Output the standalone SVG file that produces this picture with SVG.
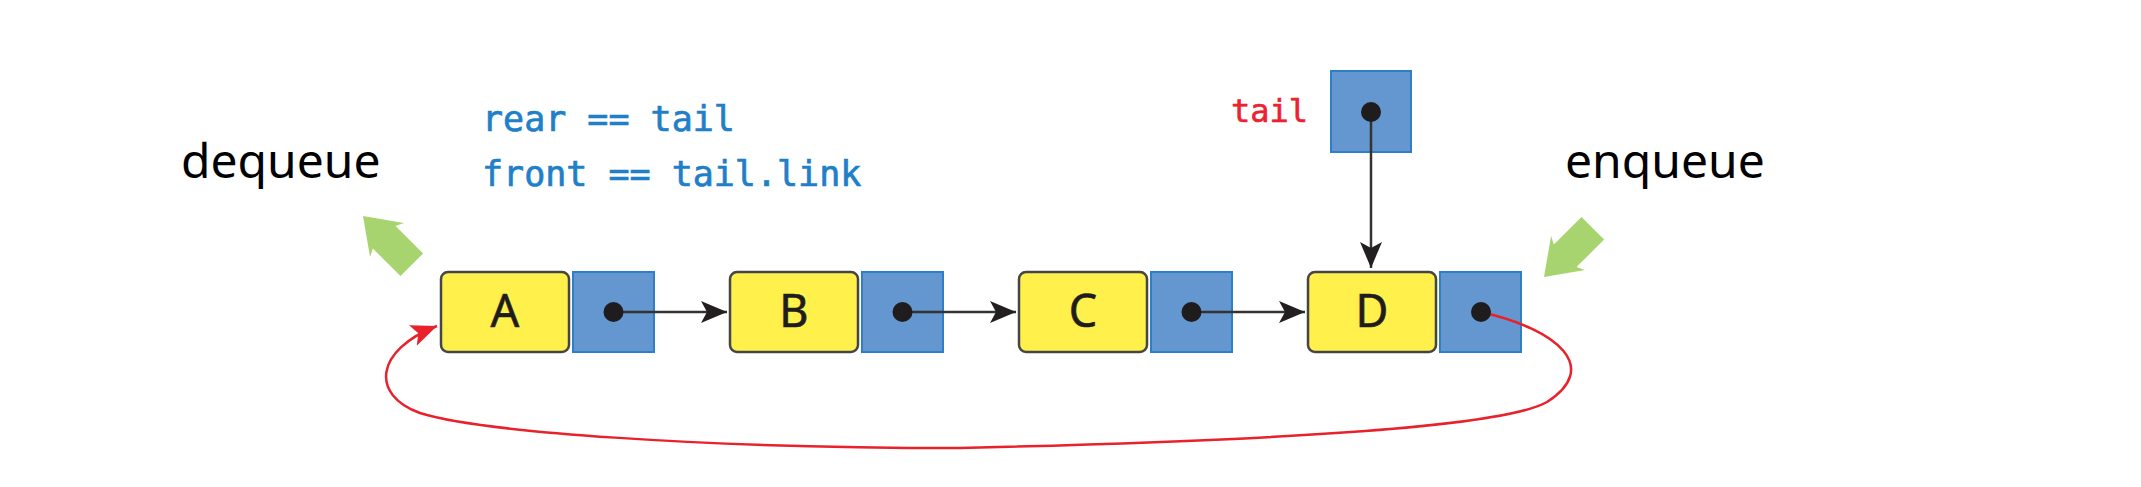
<svg xmlns="http://www.w3.org/2000/svg" width="2141" height="487" viewBox="0 0 2141 487">
<style>
.val{fill:#fff04c;stroke:#454545;stroke-width:2.5}
.ptr{fill:#6496cf;stroke:#2e7fc6;stroke-width:2}
.dot{fill:#1f1c1d}
.lbl{font-family:"Noto Sans","Open Sans",sans-serif;font-size:45px;fill:#1f1c1d;stroke:#1f1c1d;stroke-width:0.6;text-anchor:middle}
.op{font-family:"Noto Sans","Open Sans",sans-serif;font-size:48px;fill:#000}
.code{font-family:"DejaVu Sans Mono","Liberation Mono",monospace;font-size:35px;fill:#1f7fc8;stroke:#1f7fc8;stroke-width:0.7}
.link{fill:none;stroke:#333;stroke-width:2.5}
.green{fill:#a8d470}
</style>
<defs>
<marker id="ah" markerUnits="userSpaceOnUse" viewBox="-26 -12 28 24" refX="0" refY="0" markerWidth="28" markerHeight="24" orient="auto">
<path d="M0,0 L-26,-11 L-20,0 L-26,11 Z" fill="#231f20"/>
</marker>
<marker id="ahr" markerUnits="userSpaceOnUse" viewBox="-26 -12 28 24" refX="0" refY="0" markerWidth="28" markerHeight="24" orient="auto">
<path d="M0,0 L-26,-11 L-20,0 L-26,11 Z" fill="#e8212b"/>
</marker>
</defs>
<rect width="2141" height="487" fill="#fff"/>

<g id="text-labels">
<text class="op" x="181" y="178">dequeue</text>
<text class="op" x="1565" y="178">enqueue</text>
<text class="code" x="482" y="131">rear == tail</text>
<text class="code" x="482" y="186">front == tail.link</text>
</g>

<g id="dequeue-arrow">
<polygon class="green" transform="translate(363,216) rotate(45)" points="0,0 34,-24 30,-16 69,-16 69,16 30,16 34,24"/>
</g>
<g id="enqueue-arrow">
<polygon class="green" transform="translate(1544,277) rotate(-45)" points="0,0 34,-24 30,-16 69,-16 69,16 30,16 34,24"/>
</g>

<g id="node-A">
<rect class="val" x="441" y="272" width="128" height="80" rx="7"/>
<rect class="ptr" x="573" y="272" width="81" height="80"/>
<text class="lbl" x="505" y="327">A</text>
</g>
<g id="node-B">
<rect class="val" x="730" y="272" width="128" height="80" rx="7"/>
<rect class="ptr" x="862" y="272" width="81" height="80"/>
<text class="lbl" x="794" y="327">B</text>
</g>
<g id="node-C">
<rect class="val" x="1019" y="272" width="128" height="80" rx="7"/>
<rect class="ptr" x="1151" y="272" width="81" height="80"/>
<text class="lbl" x="1083" y="327">C</text>
</g>
<g id="node-D">
<rect class="val" x="1308" y="272" width="128" height="80" rx="7"/>
<rect class="ptr" x="1440" y="272" width="81" height="80"/>
<text class="lbl" x="1372" y="327">D</text>
</g>
<g id="tail">
<text x="1231" y="122" style="font-family:'DejaVu Sans Mono','Liberation Mono',monospace;font-size:32px;fill:#ec2230;stroke:#ec2230;stroke-width:0.6">tail</text>
<rect class="ptr" x="1331" y="71" width="80" height="81"/>
</g>

<g id="connectors">
<path class="link" d="M613.5,312 L727,312" marker-end="url(#ah)"/>
<path class="link" d="M902.5,312 L1016,312" marker-end="url(#ah)"/>
<path class="link" d="M1191.5,312 L1305,312" marker-end="url(#ah)"/>
<path class="link" d="M1371,112 L1371,268" marker-end="url(#ah)"/>
<path d="M1481,312 C1560,330 1600,368 1547,402 C1505,426 1300,440 960,448 C700,448 480,432 420,413 C370,395 375,350 437,326" fill="none" stroke="#e8212b" stroke-width="2.5" marker-end="url(#ahr)"/>
</g>

<g id="dots">
<circle class="dot" cx="613.5" cy="312" r="10"/>
<circle class="dot" cx="902.5" cy="312" r="10"/>
<circle class="dot" cx="1191.5" cy="312" r="10"/>
<circle class="dot" cx="1481" cy="312" r="10"/>
<circle class="dot" cx="1371" cy="112" r="10"/>
</g>
</svg>
